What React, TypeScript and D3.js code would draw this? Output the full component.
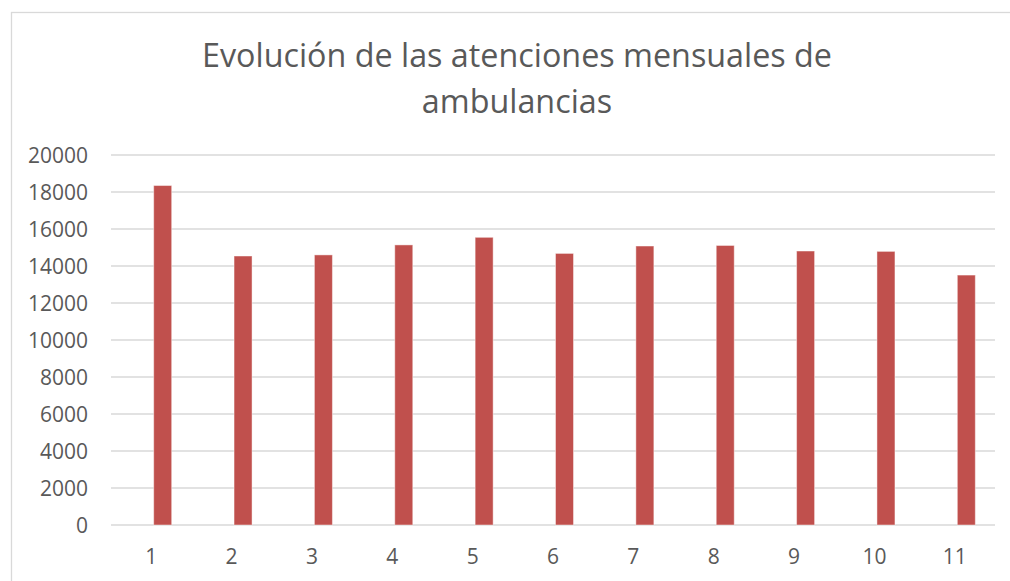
import React, { useRef, useEffect } from "react";
import * as d3 from "d3";

const months = ["1", "2", "3", "4", "5", "6", "7", "8", "9", "10", "11"];
const attentions = [18350, 14540, 14600, 15140, 15550, 14680, 15080, 15110, 14810, 14790, 13510];
const yTicks = [0, 2000, 4000, 6000, 8000, 10000, 12000, 14000, 16000, 18000, 20000];
const titleLines = ["Evolución de las atenciones mensuales de", "ambulancias"];

const App = () => {
  const chart = useRef<SVGSVGElement>(null);

  useEffect(() => {
    const width = 1010;
    const height = 581;
    const margin = { top: 155, right: 15, bottom: 56, left: 111 };
    const font = "'Open Sans', 'Liberation Sans', sans-serif";

    const svg = d3.select(chart.current);
    svg.selectAll("*").remove();

    // chart frame
    svg.append("rect")
      .attr("x", 11.5).attr("y", 12.5)
      .attr("width", width + 10).attr("height", height + 10)
      .attr("fill", "#fff").attr("stroke", "#d9d9d9").attr("stroke-width", 1.3);

    const x = d3.scaleBand().domain(months).range([margin.left, width - margin.right]);
    const y = d3.scaleLinear().domain([0, 20000]).range([height - margin.bottom, margin.top]);

    svg.append("g")
      .selectAll("line")
      .data(yTicks)
      .join("line")
      .attr("x1", margin.left).attr("x2", width - margin.right)
      .attr("y1", d => y(d)).attr("y2", d => y(d))
      .attr("stroke", "#d9d9d9").attr("stroke-width", 1.3);

    svg.append("g")
      .selectAll("text")
      .data(yTicks)
      .join("text")
      .attr("x", 88).attr("y", d => y(d) + 7.5)
      .attr("text-anchor", "end")
      .attr("font-family", font).attr("font-size", 21).attr("fill", "#595959")
      .text(d => d);

    svg.append("g")
      .selectAll("text")
      .data(months)
      .join("text")
      .attr("x", d => x(d)! + x.bandwidth() / 2).attr("y", 563.5)
      .attr("text-anchor", "middle")
      .attr("font-family", font).attr("font-size", 21).attr("fill", "#595959")
      .text(d => d);

    const barW = 18;
    const shift = 11.5;
    svg.append("g")
      .attr("fill", "#c0504d")
      .selectAll("rect")
      .data(attentions)
      .join("rect")
      .attr("x", (d, i) => x(months[i])! + x.bandwidth() / 2 + shift - barW / 2)
      .attr("y", d => y(d))
      .attr("width", barW)
      .attr("height", d => y(0) - y(d))
      .attr("stroke", "rgba(255,255,255,0.45)").attr("stroke-width", 1);

    svg.append("g")
      .selectAll("text")
      .data(titleLines)
      .join("text")
      .attr("x", 517).attr("y", (d, i) => 66.5 + i * 46)
      .attr("text-anchor", "middle")
      .attr("font-family", font).attr("font-size", 32.3).attr("fill", "#595959")
      .text(d => d);
  }, []);

  return (
    <svg ref={chart} width={1010} height={581} style={{ position: "absolute", left: 0, top: 0 }} />
  );
};

export default App;
